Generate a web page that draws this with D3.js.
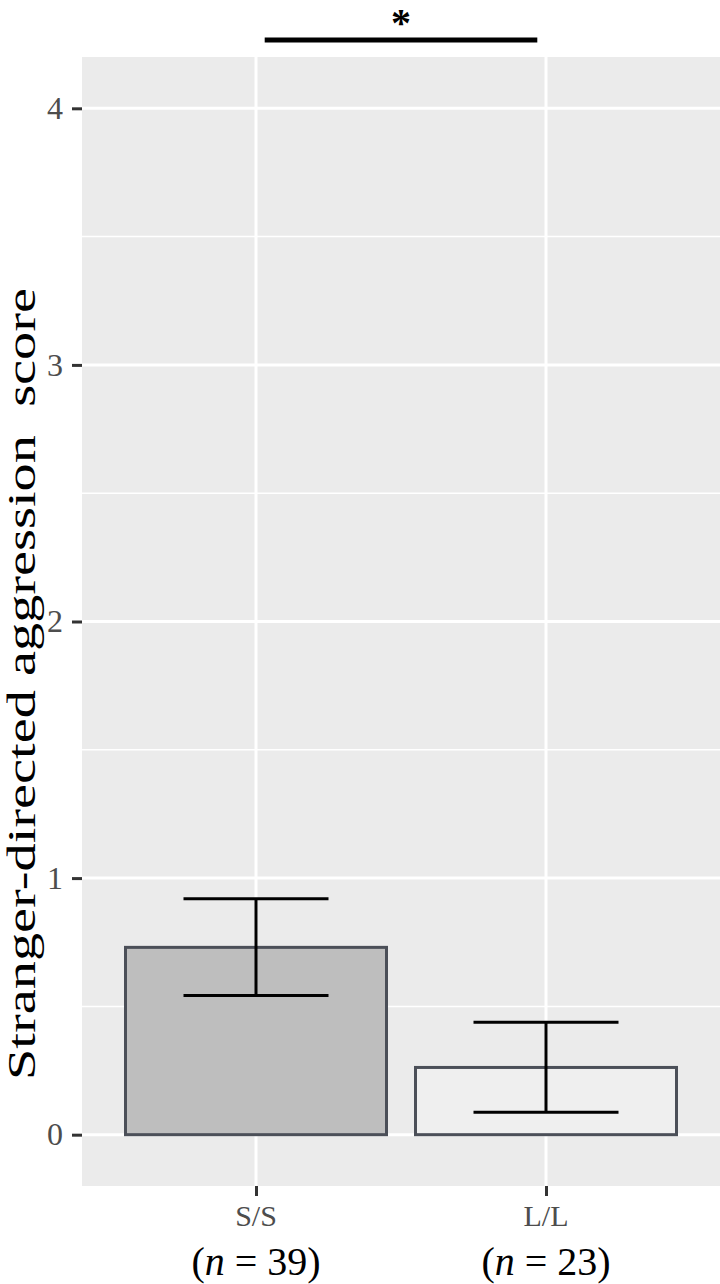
<!DOCTYPE html>
<html>
<head>
<meta charset="utf-8">
<script src="https://cdn.jsdelivr.net/npm/d3@7"></script>
<style>
body { margin: 0; background: #fff; }
svg text { font-family: "Liberation Serif", "DejaVu Serif", serif; }
</style>
</head>
<body>
<script>
// data
var groups = ["S/S", "L/L"];
var nCounts = [39, 23];
var means = [0.73, 0.262];
var lowerCI = [0.542, 0.087];
var upperCI = [0.919, 0.438];
var yTicks = [0, 1, 2, 3, 4];
var yMinor = [0.5, 1.5, 2.5, 3.5];
var sigPair = ["S/S", "L/L"];
var sigMark = "*";
var yTitle = "Stranger-directed aggression  score";

var w = 720, h = 1284;
var panel = {left: 82, right: 720, top: 57, bottom: 1186};

var svg = d3.select("body").append("svg")
  .attr("width", w)
  .attr("height", h);

// scales
var x = d3.scalePoint()
  .domain(groups)
  .range([panel.left, panel.right])
  .padding(0.6);
var step = x.step();

var y = d3.scaleLinear()
  .domain([-0.2, 4.2])
  .range([panel.bottom, panel.top]);

var fill = d3.scaleOrdinal()
  .domain(groups)
  .range(["#bebebe", "#efefef"]);

// panel background + grid
svg.append("rect")
  .attr("x", panel.left).attr("y", panel.top)
  .attr("width", panel.right - panel.left)
  .attr("height", panel.bottom - panel.top)
  .attr("fill", "#ebebeb");

svg.selectAll(".minor").data(yMinor).enter().append("line")
  .attr("x1", panel.left).attr("x2", panel.right)
  .attr("y1", function(d) { return y(d); })
  .attr("y2", function(d) { return y(d); })
  .attr("stroke", "#fff").attr("stroke-width", 1.5);

svg.selectAll(".major").data(yTicks).enter().append("line")
  .attr("x1", panel.left).attr("x2", panel.right)
  .attr("y1", function(d) { return y(d); })
  .attr("y2", function(d) { return y(d); })
  .attr("stroke", "#fff").attr("stroke-width", 3);

svg.selectAll(".vgrid").data(groups).enter().append("line")
  .attr("x1", function(d) { return x(d); })
  .attr("x2", function(d) { return x(d); })
  .attr("y1", panel.top).attr("y2", panel.bottom)
  .attr("stroke", "#fff").attr("stroke-width", 3);

// bars
var rows = groups.map(function(g, i) {
  return {g: g, n: nCounts[i], m: means[i], lo: lowerCI[i], hi: upperCI[i]};
});

svg.selectAll(".bar").data(rows).enter().append("rect")
  .attr("x", function(d) { return x(d.g) - step * 0.45; })
  .attr("y", function(d) { return y(d.m); })
  .attr("width", step * 0.9)
  .attr("height", function(d) { return y(0) - y(d.m); })
  .attr("fill", function(d) { return fill(d.g); })
  .attr("stroke", "#4b4f58")
  .attr("stroke-width", 3);

// error bars
var eb = svg.selectAll(".eb").data(rows).enter().append("g")
  .attr("stroke", "#000").attr("stroke-width", 3).attr("fill", "none");
eb.append("line")
  .attr("x1", function(d) { return x(d.g); })
  .attr("x2", function(d) { return x(d.g); })
  .attr("y1", function(d) { return y(d.lo); })
  .attr("y2", function(d) { return y(d.hi); });
eb.append("line")
  .attr("x1", function(d) { return x(d.g) - step * 0.25; })
  .attr("x2", function(d) { return x(d.g) + step * 0.25; })
  .attr("y1", function(d) { return y(d.lo); })
  .attr("y2", function(d) { return y(d.lo); });
eb.append("line")
  .attr("x1", function(d) { return x(d.g) - step * 0.25; })
  .attr("x2", function(d) { return x(d.g) + step * 0.25; })
  .attr("y1", function(d) { return y(d.hi); })
  .attr("y2", function(d) { return y(d.hi); });

// y axis
var yAxis = svg.append("g")
  .attr("transform", "translate(" + panel.left + ",0)")
  .call(d3.axisLeft(y).tickValues(yTicks).tickSize(10).tickPadding(9).tickFormat(d3.format("d")));
yAxis.select(".domain").remove();
yAxis.selectAll(".tick line").attr("stroke", "#333").attr("stroke-width", 3);
yAxis.selectAll(".tick text")
  .attr("fill", "#4d4d4d")
  .style("font-size", "32px")
  .style("font-family", "'Liberation Serif', serif");

// x axis
var xAxis = svg.append("g")
  .attr("transform", "translate(0," + panel.bottom + ")")
  .call(d3.axisBottom(x).tickSize(10).tickFormat(""));
xAxis.select(".domain").remove();
xAxis.selectAll(".tick line").attr("stroke", "#333").attr("stroke-width", 3);

svg.selectAll(".xlab").data(rows).enter().append("text")
  .attr("x", function(d) { return x(d.g); })
  .attr("y", 1226)
  .attr("text-anchor", "middle")
  .attr("fill", "#4d4d4d")
  .style("font-size", "30px")
  .text(function(d) { return d.g; });

var nlab = svg.selectAll(".nlab").data(rows).enter().append("text")
  .attr("x", function(d) { return x(d.g); })
  .attr("y", 1275)
  .attr("text-anchor", "middle")
  .attr("fill", "#000")
  .style("font-size", "40px");
nlab.append("tspan").text("(");
nlab.append("tspan").style("font-style", "italic").text("n");
nlab.append("tspan").text(function(d) { return " = " + d.n + ")"; });

// y title
svg.append("text")
  .attr("transform", "translate(35,1080) rotate(-90)")
  .attr("text-anchor", "start")
  .attr("textLength", 792)
  .attr("lengthAdjust", "spacingAndGlyphs")
  .style("font-size", "39px")
  .style("white-space", "pre")
  .attr("fill", "#000")
  .text(yTitle);

// significance bracket
var inset = step * 0.03;
svg.append("line")
  .attr("x1", x(sigPair[0]) + inset)
  .attr("x2", x(sigPair[1]) - inset)
  .attr("y1", 40).attr("y2", 40)
  .attr("stroke", "#000").attr("stroke-width", 5);
svg.append("text")
  .attr("x", (x(sigPair[0]) + x(sigPair[1])) / 2)
  .attr("y", 36)
  .attr("text-anchor", "middle")
  .style("font-size", "40px")
  .style("font-weight", "bold")
  .attr("fill", "#000")
  .text(sigMark);
</script>
</body>
</html>
